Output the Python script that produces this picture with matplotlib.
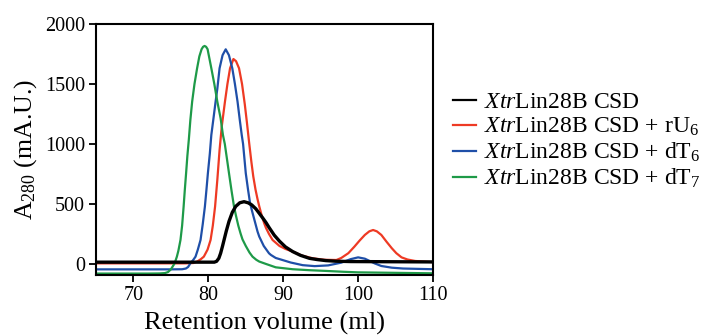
import matplotlib
matplotlib.use("Agg")
import matplotlib.pyplot as plt

plt.rcParams['font.family'] = ['Liberation Serif', 'DejaVu Serif']
plt.rcParams['mathtext.fontset'] = 'custom'
plt.rcParams['mathtext.rm'] = 'Liberation Serif'
plt.rcParams['mathtext.it'] = 'Liberation Serif:italic'

# Retention volume (ml) / A280 (mA.U.) samples
black_x = [65, 80.8, 81.1, 81.4, 81.64, 81.9, 82.1, 82.4, 82.76, 83.2, 83.66, 84.2, 84.77,
           85.3, 85.8, 86.34, 86.8, 87.3, 87.7, 88.1, 88.8, 89.5, 90.3, 91.27, 92.3,
           93.5, 94.5, 95.7, 97.0, 99.0, 110]
black_y = [15, 15, 22, 47, 89, 150, 200, 275, 355, 430, 480, 510, 519,
           510, 492, 460, 422, 380, 345, 305, 240, 190, 142, 103, 72,
           47, 37, 28, 23, 20, 17]

red_x = [65, 77.0, 78.0, 78.5, 79.0, 79.4, 79.9, 80.3, 80.6, 80.9, 81.2, 81.5, 81.8,
         82.22, 82.55, 82.9, 83.35, 83.7, 84.1, 84.5, 84.87, 85.15, 85.45, 85.75,
         86.0, 86.3, 86.57, 86.8, 87.1, 87.46, 87.7, 88.1, 88.58, 89.5, 90.3, 91.27,
         92.5, 93.95, 95.5, 97.1, 97.75, 98.7, 99.5, 100.2, 100.9, 101.5, 102.0, 102.5,
         103.1, 103.8, 104.5, 105.1, 105.8, 106.6, 107.6, 110]
red_y = [5, 5, 8, 20, 40, 61, 120, 200, 320, 478, 700, 950, 1150,
         1353, 1500, 1631, 1708, 1690, 1631, 1500, 1330, 1180, 1010, 850,
         730, 620, 540, 480, 410, 339, 300, 250, 200, 150, 125, 103,
         70, 47, 35, 33, 50, 90, 144, 195, 242, 272, 283, 272,
         242, 185, 131, 90, 55, 37, 25, 15]

blue_x = [65, 75.0, 76.5, 77.0, 77.3, 77.6, 78.0, 78.29, 78.6, 78.96, 79.25, 79.54, 79.75,
          79.94, 80.2, 80.4, 80.7, 80.97, 81.2, 81.5, 81.9, 82.32, 82.75, 83.2, 83.55,
          83.9, 84.2, 84.46, 84.64, 85.0, 85.3, 85.54, 85.8, 86.1, 86.57, 86.8, 87.4,
          88.1, 88.36, 89.0, 89.9, 91.0, 92.6, 94.2, 96.0, 97.75, 99.0, 100.0, 100.9,
          102.2, 103.1, 104.5, 106.0, 110]
blue_y = [-45, -45, -44, -38, -25, 5, 35, 61, 120, 200, 330, 478, 620,
          756, 920, 1075, 1220, 1353, 1460, 1631, 1740, 1789, 1740, 1631, 1500,
          1353, 1200, 1075, 1000, 756, 620, 520, 450, 380, 270, 228, 150,
          89, 75, 50, 33, 12, -10, -18, -12, 11, 40, 55, 44,
          5, -17, -31, -38, -44]

green_x = [65, 72.0, 73.5, 74.2, 74.6, 75.0, 75.3, 75.5, 75.8, 76.0, 76.28, 76.5, 76.7,
           76.85, 77.03, 77.2, 77.4, 77.6, 77.84, 78.15, 78.5, 78.8, 79.1, 79.3, 79.5,
           79.7, 79.9, 80.4, 80.8, 81.2, 81.64, 81.95, 82.2, 82.5, 82.76, 83.1, 83.43,
           83.7, 84.0, 84.3, 84.56, 85.0, 85.5, 85.9, 86.4, 86.8, 87.7, 89.0, 91.27,
           93.5, 95.7, 98.0, 100.0, 110]
green_y = [-80, -80, -79, -76, -68, -45, -15, 5, 61, 110, 200, 320, 478,
           610, 756, 900, 1040, 1200, 1353, 1500, 1631, 1730, 1790, 1810, 1817,
           1810, 1790, 1631, 1500, 1353, 1214, 1075, 1000, 870, 756, 610, 478,
           400, 320, 255, 205, 150, 95, 61, 35, 20, 0, -28, -44,
           -52, -58, -65, -70, -78]

labels = [r'$\mathit{Xtr}$Lin28B CSD',
          r'$\mathit{Xtr}$Lin28B CSD + rU$_6$',
          r'$\mathit{Xtr}$Lin28B CSD + dT$_6$',
          r'$\mathit{Xtr}$Lin28B CSD + dT$_7$']
colors = ['#000000', '#EE3A24', '#1F4FA8', '#1E9A48']

x_ticks = [70, 80, 90, 100, 110]
y_ticks = [0, 500, 1000, 1500, 2000]

fig = plt.figure(figsize=(7.24, 3.36), dpi=100)
ax = fig.add_axes([96/724, 1-275/336, (433-96)/724, (275-24)/336])

ax.plot(red_x, red_y, color=colors[1], lw=1.6, label=labels[1])
ax.plot(blue_x, blue_y, color=colors[2], lw=1.6, label=labels[2])
ax.plot(green_x, green_y, color=colors[3], lw=1.6, label=labels[3])
ax.plot(black_x, black_y, color=colors[0], lw=2.4, label=labels[0])

ax.set_xlim(65, 110)
ax.set_ylim(-92, 2000)
ax.set_xticks(x_ticks)
ax.set_yticks(y_ticks)
ax.tick_params(direction='out', length=5, width=1.3, labelsize=14.5, pad=3)
for s in ax.spines.values():
    s.set_linewidth(1.5)

ax.set_xlabel('Retention volume (ml)', fontsize=19, labelpad=5)
ax.set_ylabel(r'A$_{280}$ (mA.U.)', fontsize=18.5, labelpad=4)

h, l = ax.get_legend_handles_labels()
order = [3, 0, 1, 2]
leg = fig.legend([h[i] for i in order], [l[i] for i in order],
                 loc='center left', bbox_to_anchor=(441/724, 1-141/336),
                 frameon=False, fontsize=17, handlelength=1.0,
                 handletextpad=0.3, labelspacing=0.12, borderpad=0)
for line in leg.get_lines():
    line.set_linewidth(1.6)

fig.savefig('out.png', dpi=100)
